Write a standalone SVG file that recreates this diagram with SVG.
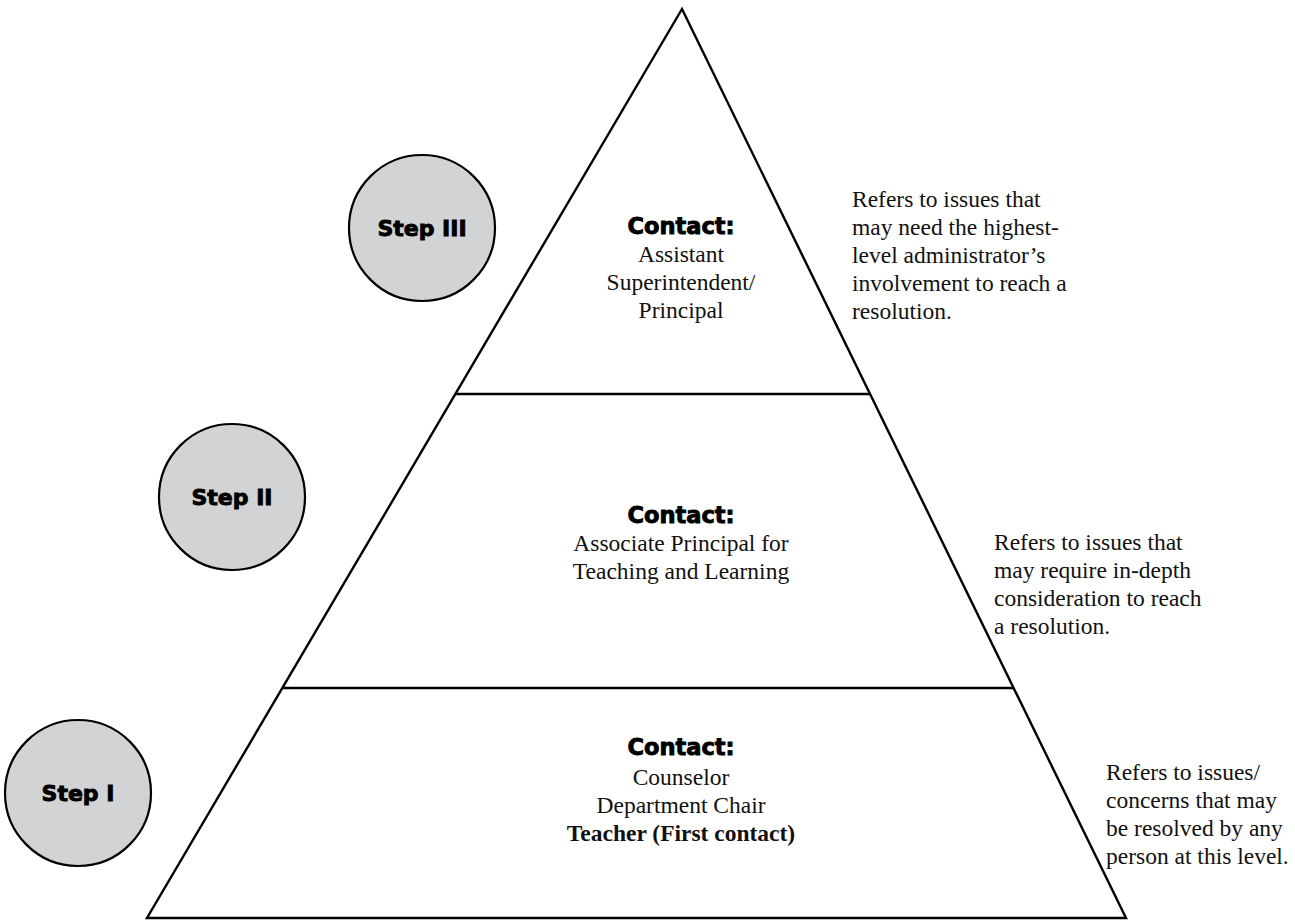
<svg xmlns="http://www.w3.org/2000/svg" width="1295" height="922" viewBox="0 0 1295 922">
<style>
.edge{fill:none;stroke:#000;stroke-width:2.4;stroke-linejoin:miter}
.circ{fill:#d1d3d4;stroke:#000;stroke-width:2.2}
.step{font-family:"DejaVu Sans","Liberation Sans",sans-serif;font-weight:bold;font-size:22px;fill:#000;stroke:#000;stroke-width:0.9;text-anchor:middle}
.head{font-family:"DejaVu Sans","Liberation Sans",sans-serif;font-weight:bold;font-size:22.5px;fill:#000;stroke:#000;stroke-width:0.9;text-anchor:middle}
.ser{font-family:"Liberation Serif","Times New Roman",serif;font-size:23.5px;fill:#111}
.mid{text-anchor:middle}
.b{font-weight:bold}
</style>
<rect width="1295" height="922" fill="#fff"/>
<g id="connectors">
<path class="edge" d="M682,9 L147,918 L1126,918 Z"/>
<line class="edge" x1="455" y1="394" x2="870" y2="394"/>
<line class="edge" x1="282" y1="688" x2="1013" y2="688"/>
</g>
<g id="step3">
<circle class="circ" cx="422" cy="228" r="73"/>
<text class="step" x="422" y="236">Step III</text>
</g>
<g id="step2">
<circle class="circ" cx="232" cy="497" r="73"/>
<text class="step" x="232" y="505">Step II</text>
</g>
<g id="step1">
<circle class="circ" cx="78" cy="793" r="73"/>
<text class="step" x="78" y="801">Step I</text>
</g>
<g id="level3">
<text class="head" x="681" y="234">Contact:</text>
<text class="ser mid" x="681" y="262">Assistant</text>
<text class="ser mid" x="681" y="290">Superintendent/</text>
<text class="ser mid" x="681" y="318">Principal</text>
</g>
<g id="level2">
<text class="head" x="681" y="523">Contact:</text>
<text class="ser mid" x="681" y="551">Associate Principal for</text>
<text class="ser mid" x="681" y="579">Teaching and Learning</text>
</g>
<g id="level1">
<text class="head" x="681" y="755">Contact:</text>
<text class="ser mid" x="681" y="785">Counselor</text>
<text class="ser mid" x="681" y="813">Department Chair</text>
<text class="ser mid b" x="681" y="841">Teacher (First contact)</text>
</g>
<g id="note3">
<text class="ser" x="852" y="207">Refers to issues that</text>
<text class="ser" x="852" y="235">may need the highest-</text>
<text class="ser" x="852" y="263">level administrator’s</text>
<text class="ser" x="852" y="291">involvement to reach a</text>
<text class="ser" x="852" y="319">resolution.</text>
</g>
<g id="note2">
<text class="ser" x="994" y="550">Refers to issues that</text>
<text class="ser" x="994" y="578">may require in-depth</text>
<text class="ser" x="994" y="606">consideration to reach</text>
<text class="ser" x="994" y="634">a resolution.</text>
</g>
<g id="note1">
<text class="ser" x="1106" y="780">Refers to issues/</text>
<text class="ser" x="1106" y="808">concerns that may</text>
<text class="ser" x="1106" y="836">be resolved by any</text>
<text class="ser" x="1106" y="864">person at this level.</text>
</g>
</svg>
